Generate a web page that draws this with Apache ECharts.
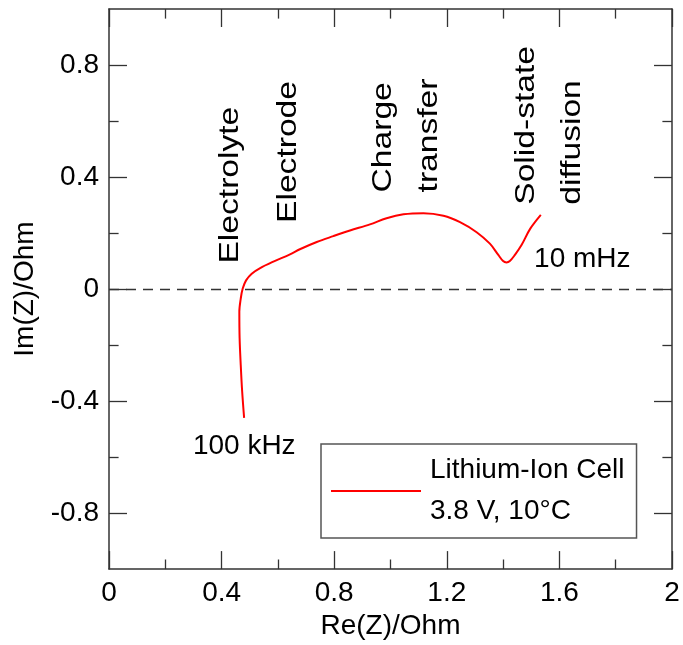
<!DOCTYPE html>
<html>
<head>
<meta charset="utf-8">
<script src="https://cdn.jsdelivr.net/npm/echarts@6/dist/echarts.min.js"></script>
<style>
  html, body { margin: 0; padding: 0; background: #fff; }
  #chart { width: 683px; height: 645px; }
</style>
</head>
<body>
<div id="chart"></div>
<script>
// Nyquist curve
const reZ = [0.480, 0.473, 0.468, 0.464, 0.463, 0.468, 0.475, 0.487, 0.507, 0.537, 0.584, 0.643, 0.678,
  0.738, 0.797, 0.856, 0.927, 0.986, 1.046, 1.117, 1.188, 1.247, 1.306, 1.353, 1.383, 1.400, 1.412, 1.424,
  1.442, 1.466, 1.496, 1.534];
const imZ = [-0.460, -0.365, -0.271, -0.176, -0.081, -0.034, 0.002, 0.031, 0.055, 0.075, 0.098, 0.124, 0.142,
  0.168, 0.189, 0.209, 0.231, 0.253, 0.267, 0.271, 0.262, 0.239, 0.203, 0.162, 0.122, 0.100, 0.095, 0.100,
  0.122, 0.158, 0.215, 0.265];

const yMajor = [-0.8, -0.4, 0, 0.4, 0.8];
const yMinor = [-0.6, -0.2, 0.2, 0.6];
const seriesName = 'Lithium-Ion Cell\n3.8 V, 10°C';

// text notes: [text, re, im, rotated]
const notes = [
  ['Electrolyte', 0.432, 0.091, true],
  ['Electrode', 0.637, 0.236, true],
  ['Charge', 0.973, 0.345, true],
  ['transfer', 1.137, 0.345, true],
  ['Solid-state', 1.483, 0.301, true],
  ['diffusion', 1.645, 0.301, true],
  ['10 mHz', 1.510, 0.108, false],
  ['100 kHz', 0.298, -0.563, false]
];

const font = 'Liberation Sans, Arial, sans-serif';
const axisColor = '#333';

var chart = echarts.init(document.getElementById('chart'));

function yAx(pos, values, len, labels, line) {
  return {
    type: 'value', min: -1, max: 1, position: pos,
    axisLine: { show: line, onZero: false, lineStyle: { color: axisColor, width: 1.5 } },
    axisTick: { show: true, inside: true, length: len, customValues: values,
      lineStyle: { color: axisColor, width: 1.3 } },
    axisLabel: { show: labels, customValues: values, fontSize: 28, fontFamily: font, color: '#000', margin: 10 },
    splitLine: { show: false },
    name: labels ? 'Im(Z)/Ohm' : '',
    nameLocation: 'middle', nameGap: 70,
    nameTextStyle: { fontSize: 28, fontFamily: font, color: '#000' }
  };
}

function xAx(pos, labels) {
  return {
    type: 'value', min: 0, max: 2, interval: 0.4, position: pos,
    axisLine: { show: true, onZero: false, lineStyle: { color: axisColor, width: 1.5 } },
    axisTick: { show: true, inside: true, length: 18, lineStyle: { color: axisColor, width: 1.3 } },
    minorTick: { show: true, splitNumber: 2, length: 9.6, lineStyle: { color: axisColor, width: 1.3 } },
    axisLabel: { show: labels, fontSize: 28, fontFamily: font, color: '#000', margin: 10 },
    splitLine: { show: false },
    name: labels ? 'Re(Z)/Ohm' : '',
    nameLocation: 'middle', nameGap: 42,
    nameTextStyle: { fontSize: 28, fontFamily: font, color: '#000' }
  };
}

var option = {
  animation: false,
  grid: { left: 109, right: 11, top: 9, bottom: 73 },
  xAxis: [xAx('bottom', true), xAx('top', false)],
  yAxis: [
    yAx('left', yMajor, 18, true, true),
    yAx('left', yMinor, 9.6, false, false),
    yAx('right', yMajor, 18, false, true),
    yAx('right', yMinor, 9.6, false, false)
  ],
  legend: {
    left: 321, top: 444,
    selectedMode: false,
    icon: 'rect', itemWidth: 90, itemHeight: 2,
    padding: [6, 12, 6, 10],
    backgroundColor: '#fff',
    borderColor: '#555', borderWidth: 1.5, borderRadius: 0,
    textStyle: { fontSize: 28, fontFamily: font, color: '#000', lineHeight: 41, padding: [0, 0, 0, 4] },
    data: [seriesName]
  },
  series: [{
    name: seriesName,
    type: 'line',
    xAxisIndex: 0, yAxisIndex: 0,
    data: reZ.map((x, i) => [x, imZ[i]]),
    symbol: 'none',
    smooth: 0.35,
    lineStyle: { color: '#ff0000', width: 2 },
    itemStyle: { color: '#ff0000' },
    markLine: {
      silent: true, symbol: 'none', label: { show: false },
      lineStyle: { color: '#333', width: 1.3, type: [10, 7] },
      data: [{ yAxis: 0 }]
    }
  }]
};

chart.setOption(option);

chart.setOption({
  graphic: notes.map(n => {
    const p = chart.convertToPixel({ xAxisIndex: 0, yAxisIndex: 0 }, [n[1], n[2]]);
    return {
      type: 'text', x: p[0], y: p[1],
      rotation: n[3] ? Math.PI / 2 : 0,
      scaleX: n[3] ? 1.2 : 1,
      z: 50,
      style: { text: n[0], fontSize: 28, fontFamily: font, fill: '#000',
        textAlign: 'left', textVerticalAlign: 'middle' }
    };
  })
});
</script>
</body>
</html>
